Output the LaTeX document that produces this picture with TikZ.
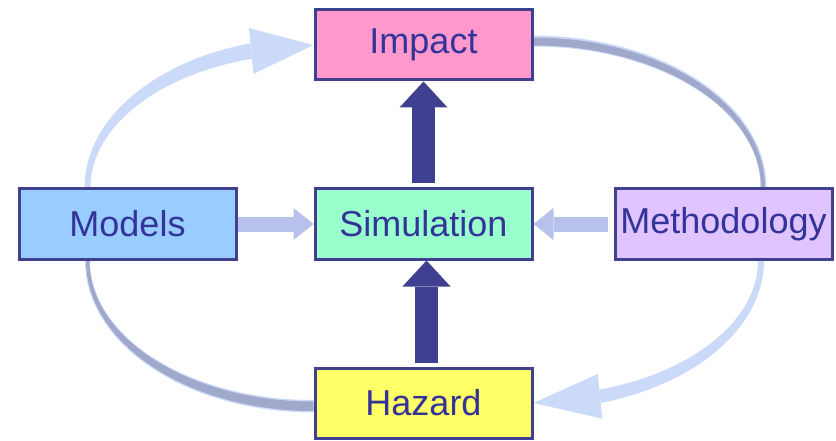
\documentclass[tikz,border=0pt]{standalone}
\usepackage{fontspec}
\setmainfont{Liberation Sans}
\usetikzlibrary{positioning,calc,arrows.meta,backgrounds}
\definecolor{navy}{RGB}{64,64,144}
\definecolor{txtblue}{RGB}{51,51,153}
\definecolor{pinkfill}{RGB}{255,153,204}
\definecolor{mintfill}{RGB}{153,255,204}
\definecolor{skyfill}{RGB}{153,204,255}
\definecolor{lilacfill}{RGB}{224,196,255}
\definecolor{lemonfill}{RGB}{255,255,102}
\definecolor{arclight}{RGB}{204,218,250}
\definecolor{arcgray}{RGB}{160,168,204}
\definecolor{sideblue}{RGB}{184,192,236}
\tikzstyle{box} = [rectangle, draw=navy, line width=3pt, minimum width=217pt, minimum height=70pt, inner sep=0pt, text=txtblue, font=\fontsize{36}{40}\selectfont]
\tikzstyle{uparrow} = [navy, line width=23pt, -{Triangle[length=26pt,width=48pt,line width=0pt]}]
\tikzstyle{sidearrow} = [sideblue, line width=15pt, -{Triangle[length=20pt,width=32pt,line width=0pt]}]

\begin{document}
\begin{tikzpicture}[x=1pt,y=1pt]
\useasboundingbox (0,0) rectangle (836,440);

% Define nodes
\node[box, fill=mintfill] (sim) at (423.5,216) {Simulation};
\node[box, fill=pinkfill, above=106pt of sim]  (impact) {Impact};
\node[box, fill=lemonfill, below=106pt of sim] (haz)    {Hazard};
\node[box, fill=skyfill, left=76pt of sim]     (mod)    {Models};
\node[box, fill=lilacfill, right=80pt of sim]  (meth)   {Methodology};

% Centres of the four quarter arcs
\coordinate (cTL) at (sim.west |- mod.north);
\coordinate (cTR) at (sim.east |- meth.north);
\coordinate (cBL) at (sim.west |- mod.south);
\coordinate (cBR) at (sim.east |- meth.south);
\coordinate (hTL) at ($(cTL)+(106:226pt and 142pt)$);
\coordinate (hBR) at ($(cBR)+(-73:227.5pt and 142pt)$);

% Arcs (behind the boxes)
\begin{scope}[on background layer]
% Models -> Impact
\fill[arclight] ($(cTL)+(180:229pt and 150pt)$) arc[start angle=180,end angle=106,x radius=229pt,y radius=150pt]
  -- ($(cTL)+(106:223pt and 134pt)$) arc[start angle=106,end angle=180,x radius=223pt,y radius=134pt] -- cycle;
\fill[arclight] ($(hTL)!23pt!90:(impact.west)$) -- (impact.west) -- ($(hTL)!23pt!-90:(impact.west)$) -- cycle;
% Impact -> Methodology
\fill[arclight] ($(cTR)+(90:233pt and 152pt)$) arc[start angle=90,end angle=0,x radius=233pt,y radius=152pt]
  -- ($(cTR)+(0:227pt and 141pt)$) arc[start angle=0,end angle=90,x radius=227pt,y radius=141pt] -- cycle;
\fill[arcgray] ($(cTR)+(90:231.5pt and 150pt)$) arc[start angle=90,end angle=0,x radius=231.5pt,y radius=150pt]
  -- ($(cTR)+(0:227.5pt and 142pt)$) arc[start angle=0,end angle=90,x radius=227.5pt,y radius=142pt] -- cycle;
% Methodology -> Hazard
\fill[arclight] ($(cBR)+(0:230.5pt and 149pt)$) arc[start angle=0,end angle=-73,x radius=230.5pt,y radius=149pt]
  -- ($(cBR)+(-73:224.5pt and 135pt)$) arc[start angle=-73,end angle=0,x radius=224.5pt,y radius=135pt] -- cycle;
\fill[arclight] ($(hBR)!22.5pt!90:(haz.east)$) -- (haz.east) -- ($(hBR)!22.5pt!-90:(haz.east)$) -- cycle;
% Models -> Hazard
\fill[arclight] ($(cBL)+(180:228.5pt and 152pt)$) arc[start angle=180,end angle=270,x radius=228.5pt,y radius=152pt]
  -- ($(cBL)+(270:223.5pt and 139.5pt)$) arc[start angle=270,end angle=180,x radius=223.5pt,y radius=139.5pt] -- cycle;
\fill[arcgray] ($(cBL)+(180:227.5pt and 150.5pt)$) arc[start angle=180,end angle=270,x radius=227.5pt,y radius=150.5pt]
  -- ($(cBL)+(270:224pt and 141pt)$) arc[start angle=270,end angle=180,x radius=224pt,y radius=141pt] -- cycle;
\end{scope}

% Edges
\draw[uparrow, shorten <=4pt] (sim) -- (impact);
\draw[uparrow, shorten <=4pt] ([xshift=3pt]haz.north) -- ([xshift=3pt]sim.south);
\draw[sidearrow] (mod) -- (sim);
\draw[sidearrow, shorten <=6pt] (meth) -- (sim);

\end{tikzpicture}
\end{document}
